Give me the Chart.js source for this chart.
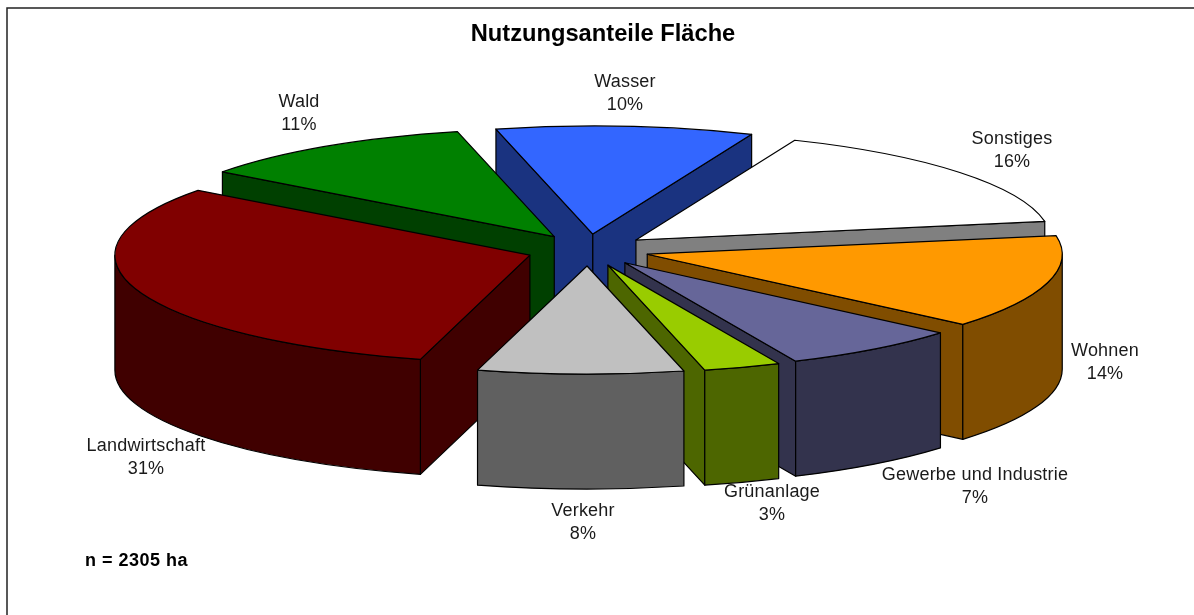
<!DOCTYPE html>
<html><head><meta charset="utf-8">
<style>html,body{margin:0;padding:0;background:#fff;overflow:hidden}canvas{display:block}</style>
<script src="https://cdn.jsdelivr.net/npm/chart.js@4"></script>
</head><body>
<canvas id="c" width="1194" height="615"></canvas>
<script>
const chartTitle = 'Nutzungsanteile Fläche';
const footNote = 'n = 2305 ha';
const categories = ['Wasser','Sonstiges','Wohnen','Gewerbe und Industrie','Grünanlage','Verkehr','Landwirtschaft','Wald'];
const values = [10,16,14,7,3,8,31,11];
const topColors = ['#3366FF','#FFFFFF','#FF9900','#666699','#99CC00','#C0C0C0','#800000','#008000'];
const wallColors = ['#1A3380','#808080','#804D00','#33334D','#4D6600','#606060','#400000','#004000'];
const labelCenters = [[625,81],[1012,138],[1105,350],[975,474],[772,491],[583,510],[146,445],[299,101]];

// projection of the flat pie into the tilted view
const VIEW = {cx:588, cy:250, rx:415, ry:108, depth:115, rotation:-13.5, explode:0.148};

const pie3d = {
  id:'pie3d',
  beforeDatasetsDraw(chart){
    const ctx = chart.ctx, arcs = chart.getDatasetMeta(0).data;
    const R = arcs[0].outerRadius, sx = VIEW.rx/R, sy = VIEW.ry/R;
    const slices = arcs.map((el,i)=>{
      const mid=(el.startAngle+el.endAngle)/2;
      return {el,i,mid,ax:VIEW.cx+Math.cos(mid)*VIEW.explode*VIEW.rx, ay:VIEW.cy+Math.sin(mid)*VIEW.explode*VIEW.ry};
    }).sort((a,b)=>Math.sin(a.mid)-Math.sin(b.mid));
    const H=VIEW.depth;
    for(const s of slices){
      const {el,i,ax,ay}=s, a0=el.startAngle, a1=el.endAngle;
      const pt=a=>[ax+Math.cos(a)*VIEW.rx, ay+Math.sin(a)*VIEW.ry];
      ctx.save();
      ctx.lineWidth=1.2; ctx.strokeStyle='#000'; ctx.fillStyle=wallColors[i]; ctx.lineJoin='round';
      const quad=a=>{const p=pt(a);ctx.beginPath();ctx.moveTo(ax,ay);ctx.lineTo(p[0],p[1]);ctx.lineTo(p[0],p[1]+H);ctx.lineTo(ax,ay+H);ctx.closePath();ctx.fill();ctx.stroke();};
      if(Math.sin(a0-Math.PI/2)>0) quad(a0);
      if(Math.sin(a1+Math.PI/2)>0) quad(a1);
      const lo=Math.max(a0,0), hi=Math.min(a1,Math.PI);
      if(hi>lo){
        ctx.beginPath();
        ctx.ellipse(ax,ay,VIEW.rx,VIEW.ry,0,lo,hi);
        ctx.ellipse(ax,ay+H,VIEW.rx,VIEW.ry,0,hi,lo,true);
        ctx.closePath();ctx.fill();ctx.stroke();
      }
      // top face: the library's own arc element under the tilt transform
      ctx.save();
      ctx.translate(ax,ay);ctx.scale(sx,sy);ctx.translate(-el.x,-el.y);
      el.draw(ctx);
      ctx.restore();
      ctx.beginPath();ctx.moveTo(ax,ay);
      ctx.ellipse(ax,ay,VIEW.rx,VIEW.ry,0,a0,a1);
      ctx.closePath();ctx.stroke();
      ctx.restore();
    }
    return false;
  },
  afterDraw(chart){
    const ctx=chart.ctx;
    ctx.save();
    ctx.strokeStyle='#222';ctx.lineWidth=1.5;
    ctx.beginPath();ctx.moveTo(7,615);ctx.lineTo(7,8);ctx.lineTo(1194,8);ctx.stroke();
    ctx.fillStyle='#1a1a1a';ctx.textAlign='center';ctx.textBaseline='middle';
    ctx.font='18px "Liberation Sans", Arial, sans-serif';
    ctx.letterSpacing='0.2px';
    categories.forEach((name,i)=>{
      const [x,y]=labelCenters[i];
      ctx.fillText(name,x,y+1);
      ctx.fillText(values[i]+'%',x,y+24.5);
    });
    ctx.fillStyle='#000';ctx.textAlign='left';
    ctx.letterSpacing='0.5px';
    ctx.font='bold 18px "Liberation Sans", Arial, sans-serif';
    ctx.fillText(footNote,85,561);
    ctx.restore();
  }
};

new Chart(document.getElementById('c'),{
  type:'pie',
  data:{labels:categories,datasets:[{data:values,backgroundColor:topColors,borderWidth:0}]},
  options:{
    responsive:false,animation:false,
    rotation:VIEW.rotation,
    layout:{padding:{left:12}},
    plugins:{
      legend:{display:false},tooltip:{enabled:false},
      title:{display:true,text:chartTitle,color:'#000',padding:{top:20,bottom:8},
        font:{family:'"Liberation Sans", Arial, sans-serif',size:23.7,weight:'bold'}}
    }
  },
  plugins:[pie3d]
});
</script>
</body></html>
